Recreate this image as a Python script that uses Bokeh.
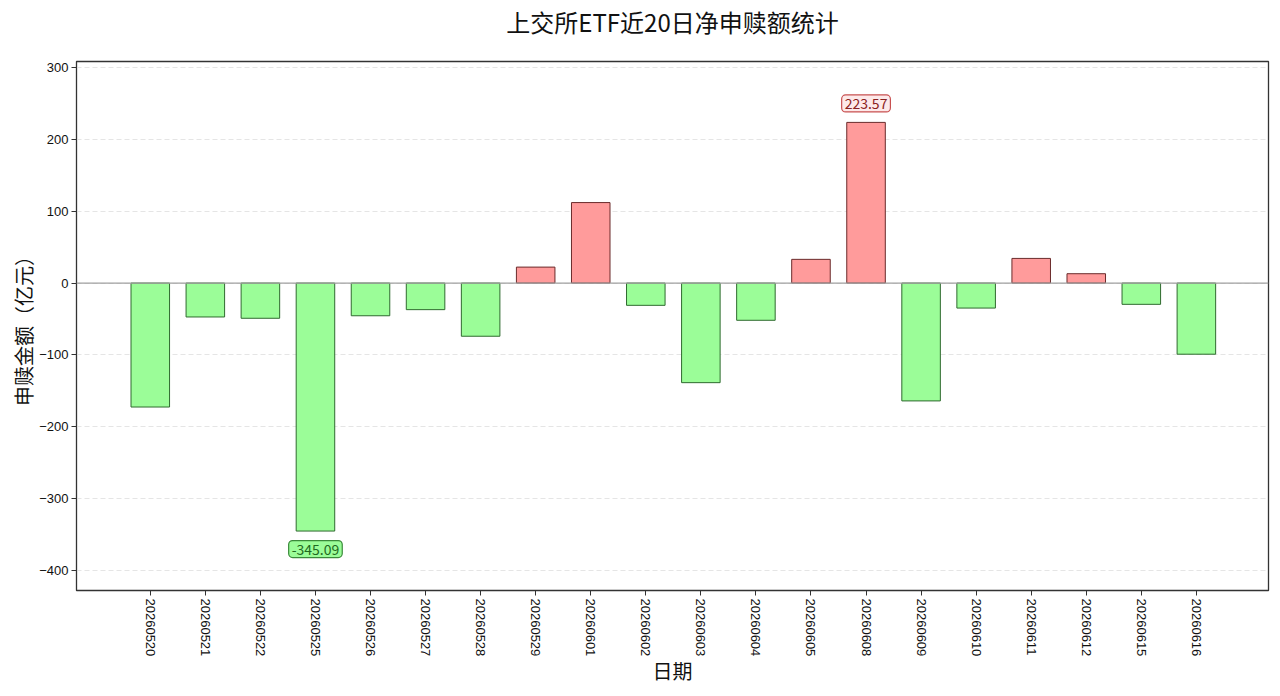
from bokeh.plotting import figure
from bokeh.models import ColumnDataSource, FixedTicker, Range1d, Span, Label, LinearAxis
from bokeh.embed import file_html
from bokeh.resources import INLINE

dates = ["20260520", "20260521", "20260522", "20260525", "20260526", "20260527",
         "20260528", "20260529", "20260601", "20260602", "20260603", "20260604",
         "20260605", "20260608", "20260609", "20260610", "20260611", "20260612",
         "20260615", "20260616"]
values = [-172.5, -47.2, -49.0, -345.09, -45.5, -37.0, -74.0, 22.2, 112.0, -31.0,
          -138.6, -51.8, 33.0, 223.57, -164.0, -34.8, 34.3, 13.0, -29.6, -99.0]
y_ticks = [-400, -300, -200, -100, 0, 100, 200, 300]

title_text = "上交所ETF近20日净申赎额统计"
x_label = "日期"
y_label = "申赎金额（亿元）"

POS_FILL, NEG_FILL = "#ff9b9b", "#9bfd98"
POS_LINE, NEG_LINE = "#6a2b2b", "#2f6a2f"

idx = list(range(len(dates)))
src = ColumnDataSource(dict(
    x=idx, top=values,
    fill=[POS_FILL if v >= 0 else NEG_FILL for v in values],
    line=[POS_LINE if v >= 0 else NEG_LINE for v in values],
))

CJK = "Noto Sans CJK SC"
LAT = "Liberation Sans"

xr = Range1d(-1.34, len(dates) - 1 + 1.31)
yr = Range1d(-427.8, 308.3)

p = figure(width=1280, height=696, output_backend="svg", toolbar_location=None,
           x_range=xr, y_range=yr,
           min_border_left=76, min_border_right=12, min_border_top=60, min_border_bottom=106)

xaxis = p.below[0]
yaxis = p.left[0]

# chart title, carried by a tick-less axis above the frame
top_axis = LinearAxis(ticker=FixedTicker(ticks=[]), axis_line_color=None,
                      major_tick_line_color=None, minor_tick_line_color=None,
                      major_label_text_font_size="0px",
                      axis_label=title_text, axis_label_text_font=CJK,
                      axis_label_text_font_size="24px", axis_label_text_font_style="normal",
                      axis_label_text_color="#111111", axis_label_text_line_height=1.0,
                      axis_label_standoff=23)
p.add_layout(top_axis, "above")

p.vbar(x="x", top="top", bottom=0, width=0.7, source=src,
       fill_color="fill", line_color="line", line_width=1)

p.add_layout(Span(location=0, dimension="width", line_color="#a0a0a0", line_width=1.3))

p.outline_line_color = "#333333"
p.outline_line_width = 1.3

p.xgrid.grid_line_color = None
p.ygrid.grid_line_color = "#dedede"
p.ygrid.grid_line_dash = "5 3"
p.ygrid.grid_line_width = 0.8
p.ygrid.ticker = FixedTicker(ticks=y_ticks)

yaxis.ticker = FixedTicker(ticks=y_ticks)
xaxis.ticker = FixedTicker(ticks=idx)
xaxis.major_label_overrides = {i: d for i, d in enumerate(dates)}
xaxis.major_label_orientation = "vertical"

for ax in (xaxis, yaxis):
    ax.axis_line_color = "#333333"
    ax.major_tick_line_color = "#333333"
    ax.major_tick_out = 5
    ax.major_tick_in = 0
    ax.minor_tick_line_color = None
    ax.major_label_text_font = LAT
    ax.major_label_text_font_size = "13px"
    ax.major_label_text_color = "#111111"
    ax.major_label_standoff = 3
    ax.axis_label_text_font = CJK
    ax.axis_label_text_font_style = "normal"
    ax.axis_label_text_color = "#111111"
    ax.axis_label_text_line_height = 1.0
    ax.axis_label_text_font_size = "20px"

yaxis.axis_label = y_label
yaxis.axis_label_standoff = -2
xaxis.axis_label = x_label
xaxis.axis_label_standoff = -3

imax = max(idx, key=lambda i: values[i])
imin = min(idx, key=lambda i: values[i])
p.add_layout(Label(x=imax, y=values[imax], text=f"{values[imax]:.2f}", y_offset=19,
                   text_align="center", text_baseline="middle",
                   text_font=CJK, text_font_size="14px", text_color="#8a2020",
                   background_fill_color="#fde9e9", border_line_color="#c85050",
                   border_line_width=1.2, border_radius=4, padding=3))
p.add_layout(Label(x=imin, y=values[imin], text=f"{values[imin]:.2f}", y_offset=-18,
                   text_align="center", text_baseline="middle",
                   text_font=CJK, text_font_size="14px", text_color="#1f6a1f",
                   background_fill_color="#9bfd98", border_line_color="#3a8a3a",
                   border_line_width=1.2, border_radius=4, padding=3))

open("out.html", "w").write(file_html(p, INLINE))
